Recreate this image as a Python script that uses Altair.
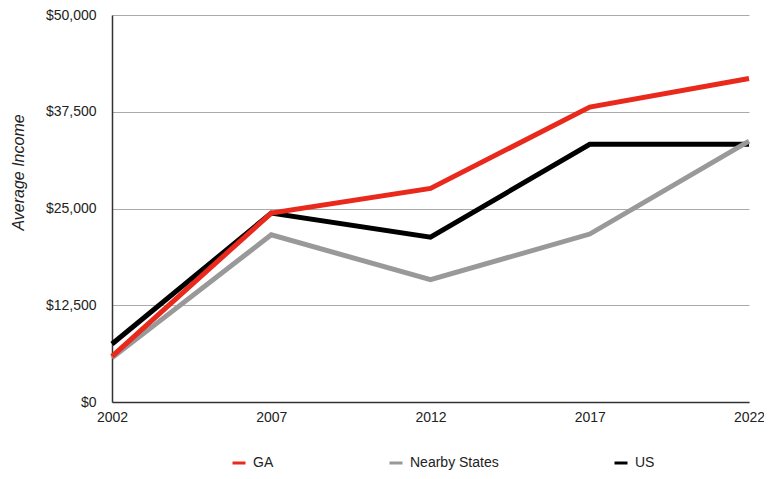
import altair as alt
import pandas as pd

years = [2002, 2007, 2012, 2017, 2022]
ga = [5900, 24400, 27600, 38100, 41800]
nearby = [5700, 21600, 15800, 21700, 33700]
us = [7500, 24400, 21300, 33300, 33300]

series_names = ["GA", "Nearby States", "US"]
series_colors = ["#E8291C", "#999999", "#000000"]
y_ticks = [0, 12500, 25000, 37500, 50000]

rows = []
for name, vals in zip(series_names, [ga, nearby, us]):
    for yr, v in zip(years, vals):
        rows.append({"year": yr, "income": v, "series": name})
df = pd.DataFrame(rows)

FONT = "Liberation Sans"

x_enc = alt.X("year:Q",
              scale=alt.Scale(domain=[2002, 2022], nice=False, zero=False),
              axis=alt.Axis(values=years, format="d", title=None, grid=False,
                            ticks=False, labelPadding=8, labelFlush=False,
                            labelFontSize=14, labelColor="#222",
                            domainColor="#333", domainWidth=1.5))
y_enc = alt.Y("income:Q",
              scale=alt.Scale(domain=[0, 50000], nice=False),
              axis=alt.Axis(values=y_ticks, format="$,.0f", title="Average Income",
                            grid=True, gridColor="#AAAAAA", gridWidth=1,
                            ticks=False, labelPadding=16, labelFontSize=14,
                            labelColor="#222", domainColor="#333", domainWidth=1.5,
                            titleFontSize=16, titleFontStyle="italic",
                            titleFontWeight="normal", titleColor="#222",
                            titleX=-94, titleY=157, titleAngle=-90,
                            titleAlign="center", titleBaseline="middle"))
color_enc = alt.Color("series:N",
                      scale=alt.Scale(domain=series_names, range=series_colors),
                      legend=alt.Legend(title=None, orient="none", direction="horizontal",
                                        legendX=119, legendY=440,
                                        symbolType="stroke", symbolSize=169,
                                        symbolStrokeWidth=3, labelFontSize=14,
                                        labelColor="#222", labelOffset=6,
                                        columnPadding=109))

layers = []
for name in ["US", "Nearby States", "GA"]:
    layers.append(
        alt.Chart(df).transform_filter(alt.datum.series == name)
        .mark_line(strokeWidth=5)
        .encode(x=x_enc, y=y_enc, color=color_enc)
    )

chart = alt.layer(*layers).properties(
    width=637, height=387,
    autosize=alt.AutoSizeParams(type="none"),
    padding={"left": 104, "top": 7, "right": 15, "bottom": 69},
).configure(font=FONT).configure_view(stroke=None)

chart.save("out.html", embed_options={"renderer": "svg", "actions": False})
